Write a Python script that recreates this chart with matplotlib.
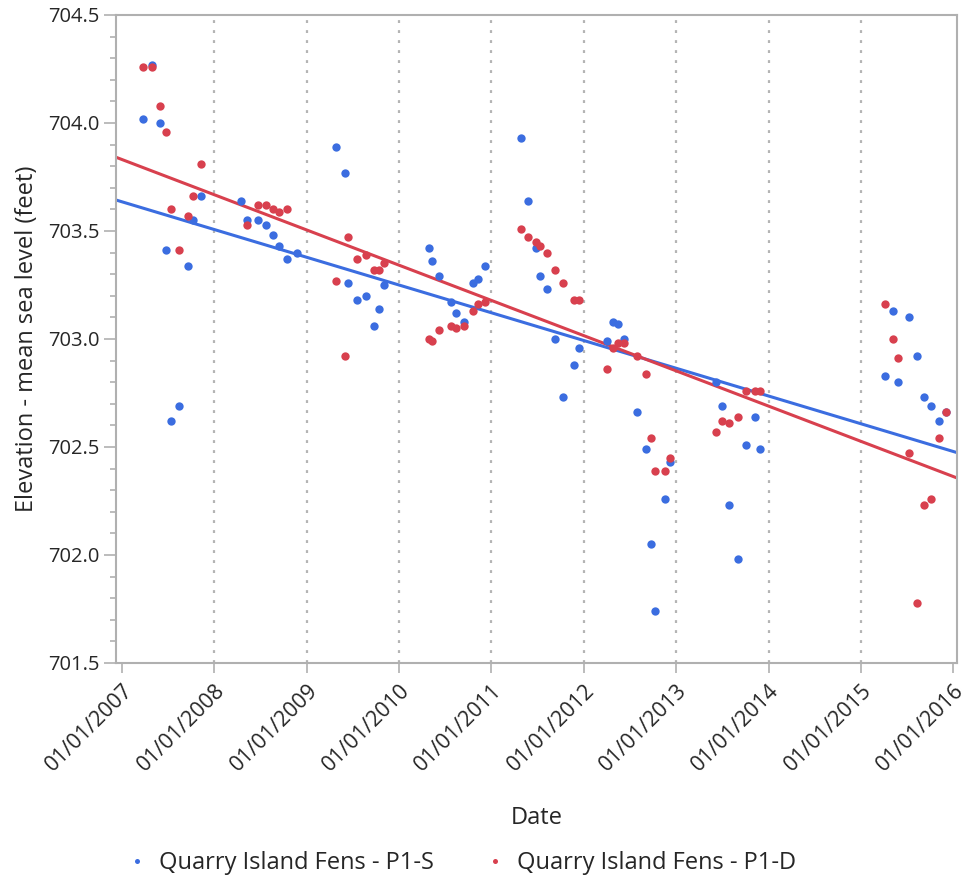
import numpy as np
import pandas as pd
import matplotlib
matplotlib.use("Agg")
import matplotlib.pyplot as plt
import matplotlib.dates as mdates
from matplotlib.ticker import MultipleLocator, FormatStrFormatter

plt.rcParams['font.family'] = ['Open Sans', 'DejaVu Sans']

# Quarry Island Fens - P1-S (shallow well)
s_dates = [
    "2007-03-26", "2007-04-29", "2007-06-02", "2007-06-23", "2007-07-12", "2007-08-16",
    "2007-09-18", "2007-10-09", "2007-11-11",
    "2008-04-16", "2008-05-11", "2008-06-20", "2008-07-24", "2008-08-21", "2008-09-11",
    "2008-10-14", "2008-11-24",
    "2009-04-28", "2009-06-01", "2009-06-14", "2009-07-18", "2009-08-22", "2009-09-25",
    "2009-10-15", "2009-11-03",
    "2010-04-28", "2010-05-12", "2010-06-08", "2010-07-25", "2010-08-14", "2010-09-16",
    "2010-10-20", "2010-11-10", "2010-12-08",
    "2011-04-27", "2011-05-25", "2011-06-28", "2011-07-11", "2011-08-08", "2011-09-11",
    "2011-10-12", "2011-11-23", "2011-12-13",
    "2012-03-31", "2012-04-27", "2012-05-16", "2012-06-07", "2012-07-31", "2012-09-03",
    "2012-09-23", "2012-10-08", "2012-11-16", "2012-12-07",
    "2013-06-06", "2013-07-02", "2013-07-30", "2013-09-03", "2013-10-05", "2013-11-08",
    "2013-11-28",
    "2015-04-05", "2015-05-09", "2015-05-29", "2015-07-09", "2015-08-12", "2015-09-07",
    "2015-10-05", "2015-11-07", "2015-12-05",
]
s_elev = [
    704.02, 704.27, 704.00, 703.41, 702.62, 702.69,
    703.34, 703.55, 703.66,
    703.64, 703.55, 703.55, 703.53, 703.48, 703.43,
    703.37, 703.40,
    703.89, 703.77, 703.26, 703.18, 703.20, 703.06,
    703.14, 703.25,
    703.42, 703.36, 703.29, 703.17, 703.12, 703.08,
    703.26, 703.28, 703.34,
    703.93, 703.64, 703.42, 703.29, 703.23, 703.00,
    702.73, 702.88, 702.96,
    702.99, 703.08, 703.07, 703.00, 702.66, 702.49,
    702.05, 701.74, 702.26, 702.43,
    702.80, 702.69, 702.23, 701.98, 702.51, 702.64,
    702.49,
    702.83, 703.13, 702.80, 703.10, 702.92, 702.73,
    702.69, 702.62, 702.66,
]

# Quarry Island Fens - P1-D (deep well)
d_dates = [
    "2007-03-26", "2007-04-29", "2007-06-02", "2007-06-23", "2007-07-12", "2007-08-16",
    "2007-09-18", "2007-10-09", "2007-11-11",
    "2008-05-11", "2008-06-20", "2008-07-24", "2008-08-21", "2008-09-11", "2008-10-14",
    "2009-04-28", "2009-06-01", "2009-06-14", "2009-07-18", "2009-08-22", "2009-09-25",
    "2009-10-15", "2009-11-03",
    "2010-04-28", "2010-05-12", "2010-06-08", "2010-07-25", "2010-08-14", "2010-09-16",
    "2010-10-20", "2010-11-10", "2010-12-08",
    "2011-04-27", "2011-05-25", "2011-06-28", "2011-07-11", "2011-08-08", "2011-09-11",
    "2011-10-12", "2011-11-23", "2011-12-13",
    "2012-03-31", "2012-04-27", "2012-05-16", "2012-06-07", "2012-07-31", "2012-09-03",
    "2012-09-23", "2012-10-08", "2012-11-16", "2012-12-07",
    "2013-06-06", "2013-07-02", "2013-07-30", "2013-09-03", "2013-10-05", "2013-11-08",
    "2013-11-28",
    "2015-04-05", "2015-05-09", "2015-05-29", "2015-07-09", "2015-08-12", "2015-09-07",
    "2015-10-05", "2015-11-07", "2015-12-05",
]
d_elev = [
    704.26, 704.26, 704.08, 703.96, 703.60, 703.41,
    703.57, 703.66, 703.81,
    703.53, 703.62, 703.62, 703.60, 703.59, 703.60,
    703.27, 702.92, 703.47, 703.37, 703.39, 703.32,
    703.32, 703.35,
    703.00, 702.99, 703.04, 703.06, 703.05, 703.06,
    703.13, 703.16, 703.17,
    703.51, 703.47, 703.45, 703.43, 703.40, 703.32,
    703.26, 703.18, 703.18,
    702.86, 702.96, 702.98, 702.98, 702.92, 702.84,
    702.54, 702.39, 702.39, 702.45,
    702.57, 702.62, 702.61, 702.64, 702.76, 702.76,
    702.76,
    703.16, 703.00, 702.91, 702.47, 701.78, 702.23,
    702.26, 702.54, 702.66,
]

series_names = ["Quarry Island Fens - P1-S", "Quarry Island Fens - P1-D"]
year_ticks = [f"{y}-01-01" for y in range(2007, 2017)]

BLUE = "#3b6de0"
RED = "#d8404e"
GRID = "#b4b4b4"
AXIS = "#b0b0b0"
TEXT = "#262626"

fig = plt.figure(figsize=(9.72, 8.82), dpi=100)
ax = fig.add_axes([0.1193, 0.2483, 0.8650, 0.7347])

xmin = mdates.date2num(pd.Timestamp("2006-12-08"))
xmax = mdates.date2num(pd.Timestamp("2016-01-15"))
ax.set_xlim(xmin, xmax)
ax.set_ylim(701.5, 704.5)

tick_nums = mdates.date2num(pd.to_datetime(year_ticks))

# dotted vertical guides at interior year boundaries
for t in tick_nums[1:-1]:
    ax.axvline(t, color=GRID, lw=1.6, ls=(0, (1.3, 3.2)), zorder=0)

handles = []
for dates, elev, col, name in [(s_dates, s_elev, BLUE, series_names[0]),
                               (d_dates, d_elev, RED, series_names[1])]:
    xn = mdates.date2num(pd.to_datetime(dates))
    yv = np.asarray(elev)
    h, = ax.plot(xn, yv, ls="none", marker="o", ms=6.0, mec="none",
                 color=col, label=name, zorder=3)
    handles.append(h)
    # least-squares trend across the whole date range
    k, b = np.polyfit(xn, yv, 1)
    xs = np.array([xmin, xmax])
    ax.plot(xs, k * xs + b, color=col, lw=2.2, zorder=2, solid_capstyle="butt")

ax.set_xticks(tick_nums)
ax.set_xticklabels([pd.Timestamp(t).strftime("%m/%d/%Y") for t in year_ticks],
                   rotation=45, ha="right", rotation_mode="anchor")
ax.yaxis.set_major_locator(MultipleLocator(0.5))
ax.yaxis.set_minor_locator(MultipleLocator(0.1))
ax.yaxis.set_major_formatter(FormatStrFormatter("%.1f"))

for sp in ax.spines.values():
    sp.set_color(AXIS)
    sp.set_linewidth(1.5)

ax.tick_params(axis="both", which="major", colors=AXIS, labelcolor=TEXT, width=1.2)
ax.tick_params(axis="y", which="major", length=9, pad=3, labelsize=14.5)
ax.tick_params(axis="y", which="minor", length=4.5, width=1.2, colors=AXIS)
ax.tick_params(axis="x", which="major", length=7, pad=5, labelsize=15.5)

ax.set_xlabel("Date", fontsize=17, color=TEXT, labelpad=22)
ax.set_ylabel("Elevation - mean sea level (feet)", fontsize=17, color=TEXT, labelpad=6)

fig.legend(handles=handles, labels=series_names, loc="center",
           bbox_to_anchor=(0.475, 0.021), ncol=2, frameon=False,
           fontsize=17, markerscale=0.6, handlelength=0.8, handletextpad=0.53,
           columnspacing=2.2, labelcolor=TEXT)

fig.savefig("out.png", dpi=100, facecolor="white")
